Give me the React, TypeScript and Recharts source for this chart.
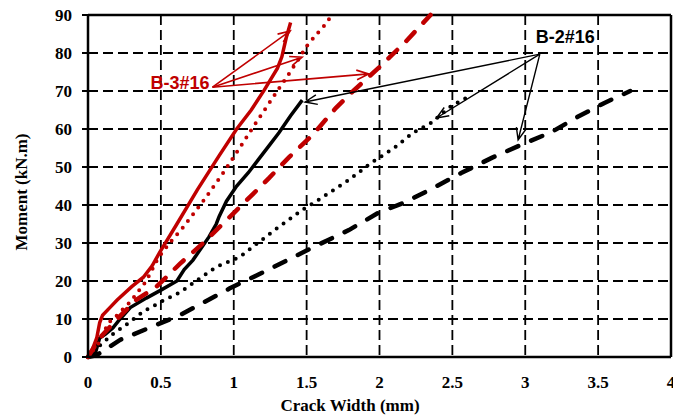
import {
  CartesianGrid,
  Line,
  LineChart,
  ReferenceDot,
  ReferenceLine,
  XAxis,
  YAxis,
} from 'recharts'

type Pt = { x: number; y: number }

// B-3#16 (red) series
const b3Solid: Pt[] = [
  { x: 0, y: 0 }, { x: 0.03, y: 2 }, { x: 0.06, y: 5 }, { x: 0.08, y: 9 },
  { x: 0.1, y: 11 }, { x: 0.15, y: 13 }, { x: 0.2, y: 15 }, { x: 0.3, y: 18.5 },
  { x: 0.38, y: 21 }, { x: 0.44, y: 24 }, { x: 0.49, y: 27.4 }, { x: 0.61, y: 35 },
  { x: 0.75, y: 44 }, { x: 0.9, y: 53 }, { x: 1.02, y: 60 }, { x: 1.12, y: 65 },
  { x: 1.21, y: 70.3 }, { x: 1.3, y: 76 }, { x: 1.33, y: 79 }, { x: 1.36, y: 84 },
  { x: 1.39, y: 88 },
]
const b3Dotted: Pt[] = [
  { x: 0, y: 0 }, { x: 0.08, y: 4 }, { x: 0.14, y: 9 }, { x: 0.2, y: 11 },
  { x: 0.29, y: 14.5 }, { x: 0.4, y: 20 }, { x: 0.48, y: 26 }, { x: 0.56, y: 30 },
  { x: 0.65, y: 34 }, { x: 0.79, y: 41 }, { x: 0.92, y: 48 }, { x: 1.04, y: 55 },
  { x: 1.15, y: 61.5 }, { x: 1.29, y: 69.5 }, { x: 1.37, y: 74 }, { x: 1.45, y: 78.7 },
  { x: 1.5, y: 81.8 }, { x: 1.57, y: 85 }, { x: 1.64, y: 88 }, { x: 1.67, y: 90 },
]
const b3Dashed: Pt[] = [
  { x: 0, y: 0 }, { x: 0.08, y: 5 }, { x: 0.2, y: 10 }, { x: 0.33, y: 15 },
  { x: 0.47, y: 18.5 }, { x: 0.63, y: 24.5 }, { x: 0.79, y: 30 }, { x: 0.95, y: 36 },
  { x: 1.09, y: 41.3 }, { x: 1.24, y: 47 }, { x: 1.38, y: 52.6 }, { x: 1.54, y: 58.4 },
  { x: 1.7, y: 65.5 }, { x: 1.82, y: 70 }, { x: 2.0, y: 76.3 }, { x: 2.18, y: 83 },
  { x: 2.35, y: 90 },
]

// B-2#16 (black) series
const b2Solid: Pt[] = [
  { x: 0, y: 0 }, { x: 0.05, y: 1 }, { x: 0.08, y: 5 }, { x: 0.12, y: 6 },
  { x: 0.17, y: 7.6 }, { x: 0.22, y: 10 }, { x: 0.29, y: 13 }, { x: 0.4, y: 15.5 },
  { x: 0.5, y: 17.6 }, { x: 0.61, y: 20 }, { x: 0.66, y: 23 }, { x: 0.72, y: 25.5 },
  { x: 0.83, y: 31.6 }, { x: 0.88, y: 35 }, { x: 0.9, y: 37 }, { x: 0.95, y: 41 },
  { x: 1.02, y: 45 }, { x: 1.1, y: 48.5 }, { x: 1.17, y: 52 }, { x: 1.24, y: 55.5 },
  { x: 1.31, y: 59 }, { x: 1.39, y: 63.5 }, { x: 1.47, y: 67.6 },
]
const b2Dotted: Pt[] = [
  { x: 0, y: 0 }, { x: 0.08, y: 3 }, { x: 0.17, y: 6 }, { x: 0.28, y: 9 },
  { x: 0.38, y: 12 }, { x: 0.5, y: 14.5 }, { x: 0.63, y: 17 }, { x: 0.76, y: 20.5 },
  { x: 0.88, y: 23.7 }, { x: 1.04, y: 26.3 }, { x: 1.28, y: 33.4 }, { x: 1.47, y: 38.7 },
  { x: 1.58, y: 41.3 }, { x: 1.79, y: 46.6 }, { x: 1.94, y: 51 }, { x: 2.1, y: 55 },
  { x: 2.23, y: 59 }, { x: 2.35, y: 61.5 }, { x: 2.49, y: 66 }, { x: 2.61, y: 68.5 },
]
const b2Dashed: Pt[] = [
  { x: 0, y: 0 }, { x: 0.06, y: 0.5 }, { x: 0.22, y: 4.5 }, { x: 0.63, y: 11 },
  { x: 0.97, y: 18 }, { x: 1.26, y: 23.4 }, { x: 1.55, y: 29 }, { x: 1.79, y: 33.4 },
  { x: 1.99, y: 37.9 }, { x: 2.18, y: 40.8 }, { x: 2.38, y: 44.7 }, { x: 2.56, y: 48.4 },
  { x: 2.77, y: 52.4 }, { x: 2.97, y: 55.8 }, { x: 3.18, y: 59.2 }, { x: 3.36, y: 63.2 },
  { x: 3.54, y: 66.8 }, { x: 3.72, y: 70 },
]

const xTicks = [0, 0.5, 1, 1.5, 2, 2.5, 3, 3.5, 4]
const yTicks = [0, 10, 20, 30, 40, 50, 60, 70, 80, 90]

// annotation anchors (data units)
const b3Label: Pt = { x: 0.854, y: 71 }
const b3Targets: Pt[] = [
  { x: 1.387, y: 85.8 },
  { x: 1.469, y: 78.9 },
  { x: 1.926, y: 74.5 },
]
const b2Label: Pt = { x: 3.1, y: 79.7 }
const b2Targets: Pt[] = [
  { x: 1.489, y: 67.1 },
  { x: 2.391, y: 62.9 },
  { x: 2.951, y: 57.1 },
]

const RED = '#c00000'
const serif = '"Liberation Serif", "Times New Roman", serif'
const sans = '"Liberation Sans", Arial, sans-serif'

const arrowShape = (color: string, width: number) => (props: any) => {
  const { x1, y1, x2, y2 } = props
  const a = Math.atan2(y2 - y1, x2 - x1)
  const len = 13
  const spread = 0.38
  const hx1 = x2 - len * Math.cos(a - spread)
  const hy1 = y2 - len * Math.sin(a - spread)
  const hx2 = x2 - len * Math.cos(a + spread)
  const hy2 = y2 - len * Math.sin(a + spread)
  return (
    <path
      d={`M${x1},${y1}L${x2},${y2}M${hx1},${hy1}L${x2},${y2}L${hx2},${hy2}`}
      stroke={color}
      strokeWidth={width}
      fill="none"
    />
  )
}

const tickStyle = { fontFamily: serif, fontWeight: 700, fontSize: 17, fill: '#000' }

const App = () => {
  return (
    <div style={{ position: 'absolute', left: 0, top: 0, background: '#fff' }}>
      <LineChart
        width={673}
        height={417}
        margin={{ top: 15, right: 2, bottom: 0, left: 0 }}
      >
        <CartesianGrid
          stroke="#000"
          strokeWidth={1.8}
          strokeDasharray="10 5"
          verticalPoints={undefined}
        />
        <XAxis
          type="number"
          dataKey="x"
          domain={[0, 4]}
          ticks={xTicks}
          interval={0}
          height={60}
          axisLine={{ stroke: '#000', strokeWidth: 2.5 }}
          tickLine={false}
          tickSize={0}
          tickMargin={19}
          tick={tickStyle}
          label={{
            content: (p: any) => (
              <text
                x={p.viewBox.x + 262}
                y={p.viewBox.y + 54}
                textAnchor="middle"
                fontFamily={serif}
                fontWeight={700}
                fontSize={17}
                fill="#000"
              >
                Crack Width  (mm)
              </text>
            ),
          }}
        />
        <YAxis
          type="number"
          domain={[0, 90]}
          ticks={yTicks}
          interval={0}
          width={88}
          axisLine={{ stroke: '#000', strokeWidth: 2.5 }}
          tickLine={{ stroke: '#000', strokeWidth: 2 }}
          tickSize={6}
          tickMargin={10}
          tick={tickStyle}
          label={{
            content: (p: any) => {
              const cx = p.viewBox.x + 21
              const cy = p.viewBox.y + p.viewBox.height / 2 + 6
              return (
                <text
                  x={cx}
                  y={cy}
                  transform={`rotate(-90 ${cx} ${cy})`}
                  textAnchor="middle"
                  dominantBaseline="central"
                  fontFamily={serif}
                  fontWeight={700}
                  fontSize={17}
                  fill="#000"
                >
                  Moment (kN.m)
                </text>
              )
            },
          }}
        />
        <ReferenceLine y={90} stroke="#000" strokeWidth={2.5} />
        <ReferenceLine x={4} stroke="#000" strokeWidth={2.5} />

        <Line data={b2Dashed} dataKey="y" type="linear" stroke="#000" strokeWidth={4.5}
          strokeDasharray="12 14" strokeLinecap="round" dot={false} isAnimationActive={false} />
        <Line data={b2Dotted} dataKey="y" type="linear" stroke="#000" strokeWidth={4}
          strokeDasharray="0 8.5" strokeLinecap="round" dot={false} isAnimationActive={false} />
        <Line data={b2Solid} dataKey="y" type="linear" stroke="#000" strokeWidth={3.5}
          dot={false} isAnimationActive={false} />
        <Line data={b3Dashed} dataKey="y" type="linear" stroke={RED} strokeWidth={4.5}
          strokeDasharray="12 13" strokeLinecap="round" dot={false} isAnimationActive={false} />
        <Line data={b3Dotted} dataKey="y" type="linear" stroke={RED} strokeWidth={4}
          strokeDasharray="0 8.5" strokeLinecap="round" dot={false} isAnimationActive={false} />
        <Line data={b3Solid} dataKey="y" type="linear" stroke={RED} strokeWidth={3.5}
          dot={false} isAnimationActive={false} />

        {b3Targets.map((t, i) => (
          <ReferenceLine
            key={`b3-${i}`}
            segment={[b3Label, t]}
            shape={arrowShape(RED, 1.6)}
          />
        ))}
        {b2Targets.map((t, i) => (
          <ReferenceLine
            key={`b2-${i}`}
            segment={[b2Label, t]}
            shape={arrowShape('#000', 1.4)}
          />
        ))}
        <ReferenceDot
          x={b3Label.x}
          y={b3Label.y}
          r={0}
          shape={(p: any) => (
            <text x={p.cx - 3} y={p.cy + 2} textAnchor="end" fontFamily={sans}
              fontWeight={700} fontSize={18} fill={RED}>
              B-3#16
            </text>
          )}
        />
        <ReferenceDot
          x={b2Label.x}
          y={b2Label.y}
          r={0}
          shape={(p: any) => (
            <text x={p.cx - 4} y={p.cy - 11} textAnchor="start" fontFamily={sans}
              fontWeight={700} fontSize={18} fill="#000">
              B-2#16
            </text>
          )}
        />
      </LineChart>
    </div>
  )
}

export default App
